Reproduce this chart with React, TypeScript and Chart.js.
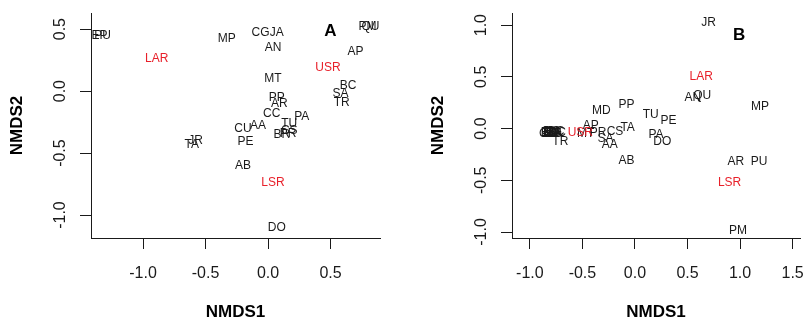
import React, { useEffect, useRef } from "react";
import { Chart, registerables } from "chart.js";

Chart.register(...registerables);

const FONT = "'Liberation Sans', Arial, Helvetica, sans-serif";
const INK = "#1a1a1a";
const RED = "#e8202a";

// ---------- Panel A ----------
const aSiteNames = ["EP", "PU", "MP", "CG", "JA", "AN", "PM", "QU", "AP", "MT", "BC", "SA", "TR", "PP", "AR", "CC", "PA", "TU", "CS", "BR", "PR", "CU", "AA", "PE", "AB", "DO", "JR", "TA"];
const aSiteX = [-1.348, -1.324, -0.33, -0.06, 0.07, 0.04, 0.795, 0.82, 0.7, 0.04, 0.64, 0.58, 0.59, 0.07, 0.09, 0.03, 0.27, 0.17, 0.17, 0.11, 0.16, -0.2, -0.08, -0.18, -0.2, 0.07, -0.58, -0.61];
const aSiteY = [0.45, 0.45, 0.42, 0.47, 0.47, 0.35, 0.52, 0.52, 0.32, 0.1, 0.04, -0.02, -0.09, -0.056, -0.105, -0.185, -0.21, -0.26, -0.32, -0.355, -0.34, -0.306, -0.28, -0.41, -0.6, -1.1, -0.4, -0.435];
const aVarNames = ["LAR", "USR", "LSR"];
const aVarX = [-0.89, 0.48, 0.04];
const aVarY = [0.26, 0.19, -0.74];
const aLetter = ["A"];
const aLetterX = [0.5];
const aLetterY = [0.48];
const aXTicks = [-1.0, -0.5, 0.0, 0.5];
const aYTicks = [-1.0, -0.5, 0.0, 0.5];
const aXRange = [-1.416, 0.896];
const aYRange = [-1.185, 0.63];

// ---------- Panel B ----------
const bSiteNames = ["EB", "EP", "CG", "JA", "CC", "BC", "CU", "EB", "BC", "CC", "TR", "JR", "AN", "QU", "MP", "MD", "PP", "TU", "PE", "TA", "CS", "PA", "DO", "AP", "PR", "SA", "AA", "AB", "MT", "AR", "PU", "PM"];
const bSiteX = [-0.82, -0.8, -0.78, -0.76, -0.74, -0.79, -0.81, -0.77, -0.75, -0.83, -0.71, 0.7, 0.55, 0.64, 1.19, -0.32, -0.08, 0.15, 0.32, -0.07, -0.19, 0.2, 0.26, -0.42, -0.35, -0.28, -0.24, -0.08, -0.47, 0.96, 1.18, 0.98];
const bSiteY = [-0.04, -0.045, -0.04, -0.05, -0.04, -0.035, -0.03, -0.05, -0.03, -0.05, -0.13, 1.02, 0.3, 0.32, 0.21, 0.17, 0.23, 0.13, 0.08, 0.01, -0.03, -0.06, -0.13, 0.03, -0.04, -0.1, -0.16, -0.31, -0.05, -0.32, -0.32, -0.99];
const bVarNames = ["LAR", "USR", "LSR"];
const bVarX = [0.63, -0.52, 0.9];
const bVarY = [0.5, -0.04, -0.52];
const bLetter = ["B"];
const bLetterX = [0.99];
const bLetterY = [0.9];
const bXTicks = [-1.0, -0.5, 0.0, 0.5, 1.0, 1.5];
const bYTicks = [-1.0, -0.5, 0.0, 0.5, 1.0];
const bXRange = [-1.17, 1.57];
const bYRange = [-1.058, 1.117];

const W = 403;
const H = 321;

type Panel = {
  siteNames: string[]; siteX: number[]; siteY: number[];
  varNames: string[]; varX: number[]; varY: number[];
  letter: string[]; letterX: number[]; letterY: number[];
  xTicks: number[]; yTicks: number[]; xRange: number[]; yRange: number[];
  yAxisWidth: number; rightPad: number; yTitlePad: number;
};

const panels: Panel[] = [
  {
    siteNames: aSiteNames, siteX: aSiteX, siteY: aSiteY,
    varNames: aVarNames, varX: aVarX, varY: aVarY,
    letter: aLetter, letterX: aLetterX, letterY: aLetterY,
    xTicks: aXTicks, yTicks: aYTicks, xRange: aXRange, yRange: aYRange,
    yAxisWidth: 91, rightPad: 23, yTitlePad: 8.5,
  },
  {
    siteNames: bSiteNames, siteX: bSiteX, siteY: bSiteY,
    varNames: bVarNames, varX: bVarX, varY: bVarY,
    letter: bLetter, letterX: bLetterX, letterY: bLetterY,
    xTicks: bXTicks, yTicks: bYTicks, xRange: bXRange, yRange: bYRange,
    yAxisWidth: 109, rightPad: 6, yTitlePad: 26.5,
  },
];

const textLabelPlugin = {
  id: "textLabels",
  afterDatasetsDraw(chart: any) {
    const ctx = chart.ctx;
    chart.data.datasets.forEach((ds: any, i: number) => {
      const meta = chart.getDatasetMeta(i);
      ctx.save();
      ctx.fillStyle = ds.textColor;
      ctx.font = ds.textFont;
      ctx.textAlign = "center";
      ctx.textBaseline = "middle";
      meta.data.forEach((el: any, j: number) => {
        ctx.fillText(ds.names[j], el.x, el.y);
      });
      ctx.restore();
    });
  },
};

function toPoints(xs: number[], ys: number[]) {
  return xs.map((x, i) => ({ x, y: ys[i] }));
}

function PanelChart({ p }: { p: Panel }) {
  const ref = useRef<HTMLCanvasElement>(null);
  useEffect(() => {
    if (!ref.current) return;
    const axisCommon = {
      type: "linear" as const,
      grid: { display: true, drawOnChartArea: false, drawTicks: true, tickLength: 11, color: INK, lineWidth: 1 },
      border: { display: true, color: INK, width: 1 },
    };
    const chart = new Chart(ref.current, {
      type: "scatter",
      data: {
        datasets: [
          { data: toPoints(p.siteX, p.siteY), pointRadius: 0, names: p.siteNames, textColor: INK, textFont: `12px ${FONT}` } as any,
          { data: toPoints(p.varX, p.varY), pointRadius: 0, names: p.varNames, textColor: RED, textFont: `12px ${FONT}` } as any,
          { data: toPoints(p.letterX, p.letterY), pointRadius: 0, names: p.letter, textColor: "#000", textFont: `bold 17px ${FONT}` } as any,
        ],
      },
      options: {
        responsive: false,
        animation: false,
        events: [],
        layout: { padding: { top: 13, right: p.rightPad, bottom: 0, left: 0 } },
        plugins: { legend: { display: false }, tooltip: { enabled: false }, title: { display: false } },
        scales: {
          x: {
            ...axisCommon,
            position: "bottom",
            min: p.xRange[0],
            max: p.xRange[1],
            afterBuildTicks: (s: any) => { s.ticks = p.xTicks.map((v) => ({ value: v })); },
            afterFit: (s: any) => { s.height = H - 238; s.paddingLeft = 0; s.paddingRight = 0; },
            ticks: { font: { size: 16, family: FONT }, color: INK, padding: 15, maxRotation: 0, minRotation: 0, callback: (v: any) => Number(v).toFixed(1) },
            title: { display: true, text: "NMDS1", color: "#000", font: { size: 17, weight: "bold", family: FONT, lineHeight: 1 }, padding: { top: 0, bottom: 0.5 } },
          },
          y: {
            ...axisCommon,
            position: "left",
            min: p.yRange[0],
            max: p.yRange[1],
            afterBuildTicks: (s: any) => { s.ticks = p.yTicks.map((v) => ({ value: v })); },
            afterFit: (s: any) => { s.width = p.yAxisWidth; s.paddingTop = 0; s.paddingBottom = 0; },
            ticks: { font: { size: 16, family: FONT }, color: INK, padding: 6, minRotation: 90, maxRotation: 90, crossAlign: "center", callback: (v: any) => Number(v).toFixed(1) },
            title: { display: true, text: "NMDS2", color: "#000", font: { size: 17, weight: "bold", family: FONT, lineHeight: 1 }, padding: { top: p.yTitlePad, bottom: 0 } },
          },
        },
      } as any,
      plugins: [textLabelPlugin],
    });
    return () => chart.destroy();
  }, [p]);
  return <canvas ref={ref} width={W} height={H} style={{ display: "block", width: W, height: H }} />;
}

export default function App() {
  return (
    <div style={{ position: "fixed", left: 0, top: 0, width: 806, height: 321, background: "#fff", display: "flex" }}>
      {panels.map((p, i) => (
        <PanelChart key={i} p={p} />
      ))}
    </div>
  );
}
